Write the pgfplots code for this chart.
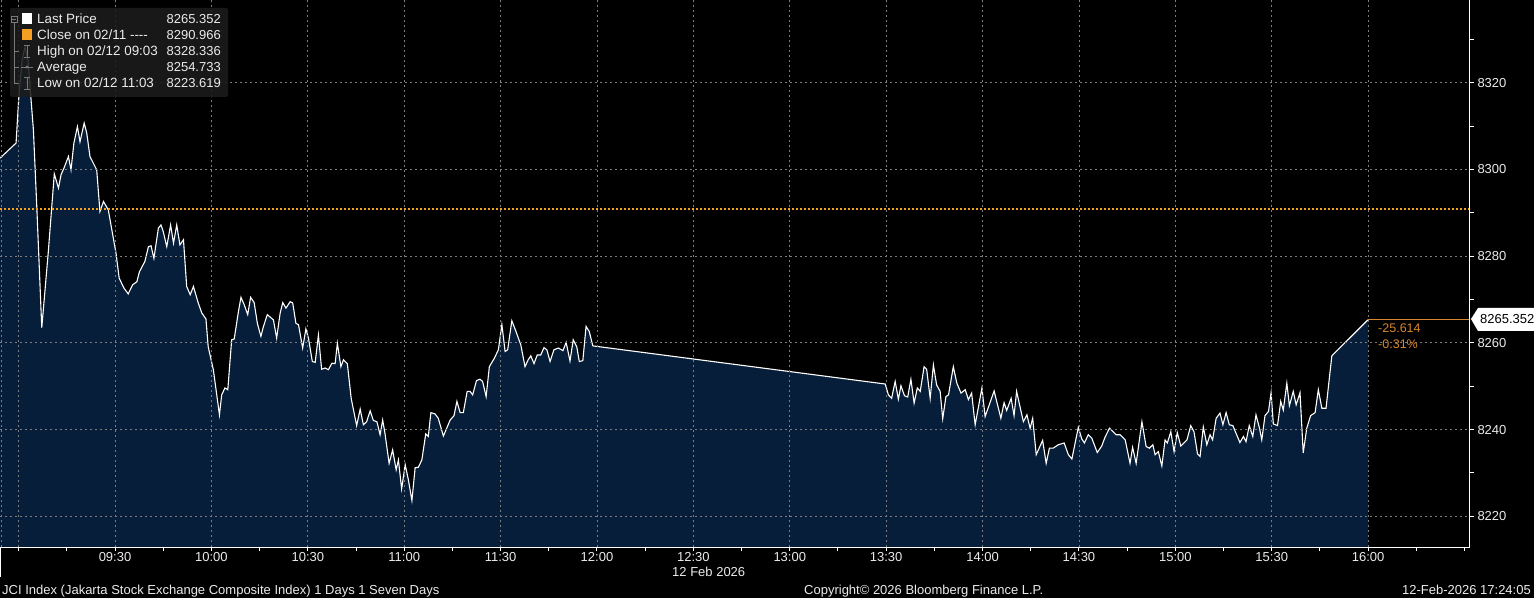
\documentclass[border=0pt]{standalone}
\usepackage{pgfplots}
\pgfplotsset{compat=1.18}
\usepackage{pgfplotstable}
\usepackage{fontspec}
\setmainfont{Liberation Sans}

\definecolor{bbnavy}{RGB}{6,30,57}
\definecolor{bbgrid}{RGB}{125,125,125}
\definecolor{bborange}{RGB}{245,160,35}
\definecolor{bbdark}{RGB}{215,135,45}
\definecolor{bbtext}{RGB}{235,235,235}
\definecolor{bbbox}{RGB}{28,28,28}
\definecolor{bbicon}{RGB}{120,120,120}

\pgfdeclarelayer{background}
\pgfsetlayers{background,main}

% minutes after 09:00, price
\pgfplotstableread{
m v
-5.8 8302.6
-0.8 8306.1
0.1 8317.2
1.1 8325.3
2.0 8328.3
2.9 8325.3
4.6 8309.1
5.6 8292.3
7.2 8263.5
9.2 8280.7
11.1 8299.0
12.4 8295.7
13.2 8298.8
14.1 8300.3
15.5 8303.0
16.3 8299.9
17.2 8306.1
18.3 8309.9
19.1 8306.4
20.4 8310.7
21.2 8308.4
22.2 8303.0
24.3 8299.9
25.3 8290.3
26.4 8292.6
27.9 8290.7
29.0 8286.1
30.3 8280.7
31.3 8274.9
32.8 8272.6
34.1 8271.3
35.5 8273.4
36.8 8274.1
37.6 8276.4
39.3 8278.8
40.4 8282.2
41.2 8282.4
42.1 8279.5
43.5 8286.5
44.3 8287.2
45.0 8285.7
46.1 8282.2
47.3 8287.2
48.2 8283.0
49.2 8287.2
50.2 8282.6
51.3 8283.8
52.3 8273.0
53.4 8271.1
54.4 8273.0
55.9 8269.2
57.0 8266.9
58.3 8265.5
59.0 8259.1
60.6 8253.8
62.5 8243.4
63.2 8248.0
64.2 8249.6
65.1 8249.2
66.3 8260.7
67.1 8260.9
68.4 8267.2
69.2 8270.5
70.2 8268.8
71.3 8266.5
72.2 8270.5
73.3 8269.3
74.3 8264.5
75.4 8261.5
76.2 8263.8
77.4 8266.5
79.3 8265.3
80.3 8261.1
81.4 8266.9
82.2 8269.3
83.2 8268.0
84.5 8269.5
85.3 8269.2
86.3 8264.5
87.1 8264.2
88.4 8258.8
89.4 8263.2
90.2 8261.1
91.4 8255.7
92.3 8255.5
93.3 8261.8
94.3 8253.9
95.4 8254.2
96.4 8253.8
97.5 8255.3
98.5 8255.2
99.2 8259.9
100.3 8254.5
101.1 8256.1
102.3 8255.2
103.5 8247.2
105.2 8240.9
106.3 8244.7
107.3 8241.1
108.3 8241.8
109.4 8244.3
110.4 8242.1
111.5 8241.8
112.5 8238.8
113.3 8242.2
114.0 8239.2
115.3 8232.2
116.4 8235.3
117.5 8230.7
118.2 8233.0
119.2 8226.3
120.3 8231.9
121.3 8228.4
122.4 8223.6
123.4 8231.2
124.4 8231.3
125.5 8233.0
126.7 8239.0
127.5 8238.4
128.3 8243.9
129.6 8243.6
130.6 8242.6
132.2 8238.5
134.3 8242.2
135.5 8243.2
136.4 8246.5
137.4 8243.9
138.4 8243.9
139.6 8248.8
140.5 8248.8
141.3 8248.0
142.5 8251.3
143.6 8251.6
144.4 8251.1
145.5 8247.6
146.5 8254.5
148.1 8256.5
149.3 8258.4
150.4 8264.2
151.4 8258.0
152.2 8258.4
153.5 8265.1
154.8 8262.6
156.3 8259.5
157.6 8254.5
158.6 8256.1
159.4 8257.0
160.4 8255.2
161.4 8257.2
162.5 8257.2
163.5 8258.9
164.4 8258.4
165.4 8255.7
166.6 8258.4
168.0 8258.8
169.4 8258.2
170.4 8260.1
171.6 8255.8
172.6 8260.7
173.7 8259.1
174.5 8255.7
175.6 8255.9
176.6 8263.8
177.6 8262.6
178.7 8259.3
269.7 8250.5
270.7 8248.0
271.7 8247.2
272.8 8251.1
273.8 8247.0
274.6 8250.1
275.7 8247.8
276.7 8247.5
277.7 8251.6
278.7 8246.1
279.7 8249.6
280.6 8248.8
281.8 8254.5
282.6 8253.9
283.7 8247.2
284.7 8254.9
285.7 8250.3
286.8 8248.8
287.6 8242.5
288.6 8247.6
289.4 8248.0
290.9 8254.5
292.0 8250.7
293.3 8248.4
294.6 8249.2
295.6 8246.9
296.6 8248.4
297.7 8241.1
299.8 8249.6
300.8 8243.0
303.6 8248.9
305.7 8242.6
306.7 8246.2
307.5 8244.4
308.9 8247.2
309.8 8243.2
310.6 8248.8
312.7 8241.8
313.8 8243.4
314.8 8240.3
315.6 8242.6
316.7 8234.2
318.7 8237.5
319.8 8232.2
320.8 8235.7
322.0 8235.7
323.6 8236.5
325.4 8236.9
326.7 8234.2
327.8 8233.2
329.8 8240.5
330.9 8237.8
331.7 8236.9
332.9 8238.8
334.0 8238.0
335.7 8234.7
337.1 8236.2
338.1 8238.2
339.5 8240.3
341.6 8238.8
342.8 8238.8
344.4 8237.6
345.9 8232.2
346.7 8235.9
347.8 8232.2
349.6 8241.8
350.9 8236.1
351.9 8235.7
353.0 8236.5
353.7 8234.2
354.7 8234.9
355.8 8231.6
356.8 8237.6
357.5 8236.9
358.6 8239.5
359.6 8234.9
360.6 8239.3
361.7 8236.2
363.6 8237.6
364.8 8240.9
365.8 8239.5
366.9 8234.4
367.7 8233.8
368.7 8240.6
369.8 8236.5
370.8 8238.8
371.6 8237.6
372.7 8242.6
373.9 8243.8
374.8 8241.1
375.8 8243.9
376.8 8241.1
377.9 8240.9
380.1 8237.0
381.2 8238.4
382.0 8237.2
383.0 8240.9
384.1 8238.4
385.1 8243.4
386.2 8240.3
386.9 8237.6
387.9 8243.2
389.0 8244.2
389.8 8248.5
390.5 8241.3
391.8 8240.9
392.8 8246.5
393.6 8244.5
394.7 8250.7
395.5 8245.5
396.7 8248.8
397.6 8245.7
398.8 8248.5
399.8 8234.6
400.9 8240.3
402.1 8243.2
403.5 8243.9
404.5 8249.2
405.6 8244.9
406.9 8244.9
408.7 8257.0
420.0 8265.352
}\jci

\begin{document}
\begin{tikzpicture}[x=1pt,y=1pt]
\begin{axis}[
  name=ax,
  at={(0,51)}, anchor=south west,
  width=1470pt, height=547pt, scale only axis,
  axis on top,
  xmin=-5.8, xmax=451.7, ymin=8212.9, ymax=8339.1,
  axis x line*=bottom, axis y line*=right,
  axis line style={white, line width=1pt, -},
  xtick={0,30,...,420},
  xticklabels={,09:30,10:00,10:30,11:00,11:30,12:00,12:30,13:00,13:30,14:00,14:30,15:00,15:30,16:00},
  minor xtick={15,45,...,435,450},
  ytick={8220,8240,...,8320},
  minor ytick={8230,8250,...,8330},
  tick align=outside,
  major tick length=4pt, minor tick length=4pt,
  tick style={white, line width=1pt},
  grid=major,
  major grid style={bbgrid, line width=0.8pt, dash pattern=on 2pt off 3pt},
  ticklabel style={font=\fontsize{13}{15}\selectfont, text=bbtext},
  xticklabel style={anchor=base, yshift=-10.5pt},
  yticklabel style={anchor=west},
  /pgf/number format/1000 sep={},
  /pgf/number format/assume math mode=true,
]
\addplot[fill=bbnavy, draw=none]
  table[x=m, y=v] {\jci} -- (axis cs:420,8200) -- (axis cs:-5.8,8200) -- cycle;
\addplot[white, line width=1.1pt] table[x=m, y=v] {\jci};
\addplot[bborange, line width=1.8pt, dash pattern=on 2pt off 2pt]
  coordinates {(-5.8,8290.966) (451.7,8290.966)};
\addplot[bbdark, line width=1pt] coordinates {(420,8265.352) (451.7,8265.352)};
\end{axis}

\begin{scope}[shift={(ax.south west)}, yshift=-51pt]
\begin{pgfonlayer}{background}
\fill[black] (0,0) rectangle (1534,598);
\end{pgfonlayer}

% left edge and lower stub
\draw[bbgrid, line width=0.8pt, dash pattern=on 2pt off 3pt] (1,51) -- (1,598);
\draw[white, line width=1pt] (0.5,51) -- (0.5,21);

% legend box
\fill[bbbox, fill opacity=0.88, rounded corners=2pt] (10,590) rectangle (228,501);
\draw[bbicon, line width=0.8pt] (11,576) rectangle (17,582);
\draw[bbicon, line width=0.8pt] (12.3,579) -- (15.7,579);
\draw[bbicon, line width=0.8pt] (14,576) -- (14,515) -- (19,515);
\draw[bbicon, line width=0.8pt] (14,547) -- (19,547) (14,531) -- (19,531);
\draw[bbicon, line width=0.8pt] (24,553) -- (30,553) (27,553) -- (27,541) (24,541) -- (30,541);
\draw[bbicon, line width=0.8pt] (21,531) -- (33,531);
\fill[bbicon] (27,531) circle (1.6);
\draw[bbicon, line width=0.8pt] (24,521) -- (30,521) (27,521) -- (27,509) (24,509) -- (30,509);
\fill[white] (22,585) rectangle (32,574);
\fill[bborange] (22,569) rectangle (32,558);
\begin{scope}[every node/.style={font=\fontsize{13.4}{15}\selectfont, text=bbtext, inner sep=0pt}]
\node[anchor=base west] at (37,574.4) {Last Price};
\node[anchor=base west] at (37,558.4) {Close on 02/11 -{}-{}-{}-};
\node[anchor=base west] at (37,542.4) {High on 02/12 09:03};
\node[anchor=base west] at (37,526.4) {Average};
\node[anchor=base west] at (37,510.4) {Low on 02/12 11:03};
\end{scope}
\begin{scope}[every node/.style={font=\fontsize{13}{15}\selectfont, text=bbtext, inner sep=0pt}]
\node[anchor=base east] at (221,574.4) {8265.352};
\node[anchor=base east] at (221,558.4) {8290.966};
\node[anchor=base east] at (221,542.4) {8328.336};
\node[anchor=base east] at (221,526.4) {8254.733};
\node[anchor=base east] at (221,510.4) {8223.619};
\end{scope}

% last price tag
\fill[white] (1471,279) -- (1478,290) -- (1534,290) -- (1534,267) -- (1478,267) -- cycle;
\node[anchor=base west, inner sep=0pt, font=\fontsize{13}{15}\selectfont, text=black] at (1480,274.3) {8265.352};
\node[anchor=base west, inner sep=0pt, font=\fontsize{12.5}{15}\selectfont, text=bbdark] at (1378,265.5) {-25.614};
\node[anchor=base west, inner sep=0pt, font=\fontsize{12.5}{15}\selectfont, text=bbdark] at (1378,249.5) {-0.31\%};

% footer
\begin{scope}[every node/.style={font=\fontsize{13}{15}\selectfont, text=bbtext, inner sep=0pt}]
\node[anchor=base west] at (672,21.5) {12 Feb 2026};
\node[anchor=base west] at (2,3.5) {JCI Index (Jakarta Stock Exchange Composite Index) 1 Days 1 Seven Days};
\node[anchor=base west] at (804,3.5) {Copyright© 2026 Bloomberg Finance L.P.};
\node[anchor=base east] at (1531,3.5) {12-Feb-2026 17:24:05};
\end{scope}
\end{scope}
\pgfresetboundingbox
\path[use as bounding box] ([yshift=-51pt]ax.south west) rectangle ++(1534,598);
\end{tikzpicture}
\end{document}
